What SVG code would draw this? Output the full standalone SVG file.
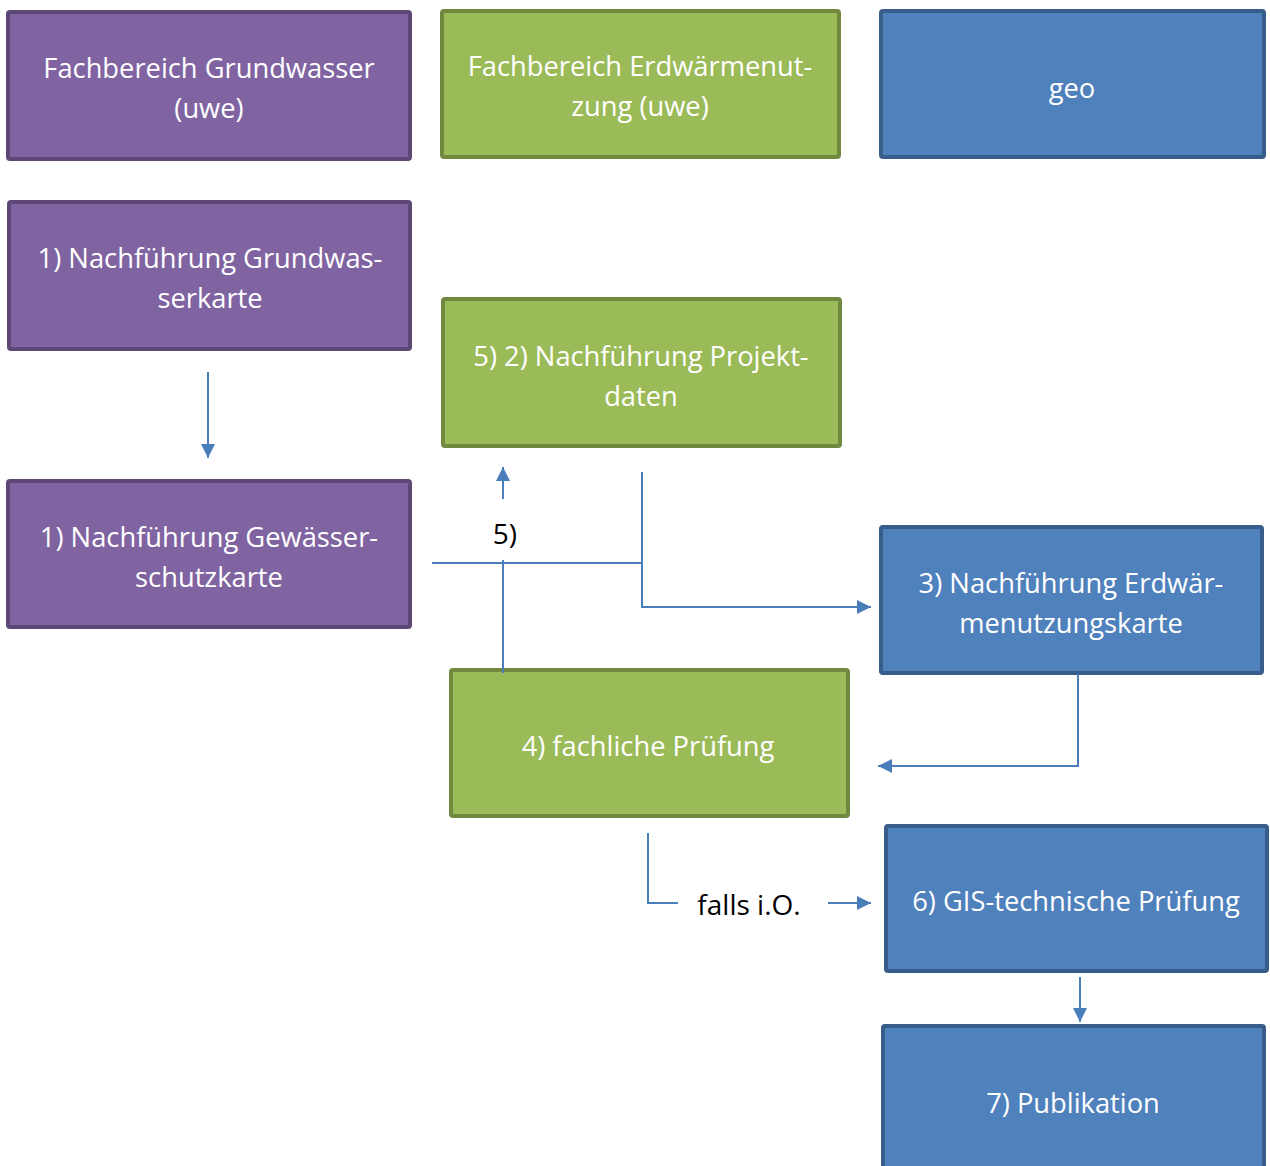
<svg xmlns="http://www.w3.org/2000/svg" width="1270" height="1166" viewBox="0 0 1270 1166">
<style>
.p{fill:#8064A2;stroke:#5C4776;stroke-width:4}
.g{fill:#9BBB59;stroke:#71893F;stroke-width:4}
.b{fill:#4F81BD;stroke:#385D8A;stroke-width:4}
.t{font-family:"Open Sans","Noto Sans",sans-serif;font-size:27.3px;fill:#fff;text-anchor:middle}
.l{font-family:"Open Sans","Noto Sans",sans-serif;font-size:28px;fill:#000;text-anchor:middle}
.c{fill:none;stroke:#4A7EBB;stroke-width:2}
</style>
<defs>
<marker id="ah" viewBox="0 0 10 10" refX="10" refY="5" markerWidth="7" markerHeight="7" markerUnits="strokeWidth" orient="auto">
<path d="M0,0 L10,5 L0,10 z" fill="#4A7EBB"/>
</marker>
</defs>
<rect width="1270" height="1166" fill="#fff"/>
<g id="n-grundwasser"><rect class="p" x="8" y="12" width="402" height="147" rx="2"/><text class="t" x="209" y="78">Fachbereich Grundwasser</text><text class="t" x="209" y="118">(uwe)</text></g>
<g id="n-erdwaerme"><rect class="g" x="442" y="11" width="397" height="146" rx="2"/><text class="t" x="640" y="76">Fachbereich Erdwärmenut-</text><text class="t" x="640" y="116">zung (uwe)</text></g>
<g id="n-geo"><rect class="b" x="881" y="11" width="383" height="146" rx="2"/><text class="t" x="1072" y="98">geo</text></g>
<g id="n-1a"><rect class="p" x="9" y="202" width="401" height="147" rx="2"/><text class="t" x="210" y="268">1) Nachführung Grundwas-</text><text class="t" x="210" y="308">serkarte</text></g>
<g id="n-1b"><rect class="p" x="8" y="481" width="402" height="146" rx="2"/><text class="t" x="209" y="547">1) Nachführung Gewässer-</text><text class="t" x="209" y="587">schutzkarte</text></g>
<g id="n-5"><rect class="g" x="443" y="299" width="397" height="147" rx="2"/><text class="t" x="641" y="366">5) 2) Nachführung Projekt-</text><text class="t" x="641" y="406">daten</text></g>
<g id="n-3"><rect class="b" x="881" y="527" width="381" height="146" rx="2"/><text class="t" x="1071" y="593">3) Nachführung Erdwär-</text><text class="t" x="1071" y="633">menutzungskarte</text></g>
<g id="n-4"><rect class="g" x="451" y="670" width="397" height="146" rx="2"/><text class="t" x="648" y="756">4) fachliche Prüfung</text></g>
<g id="n-6"><rect class="b" x="886" y="826" width="381" height="145" rx="2"/><text class="t" x="1076" y="911">6) GIS-technische Prüfung</text></g>
<g id="n-7"><rect class="b" x="883" y="1026" width="381" height="150" rx="2"/><text class="t" x="1073" y="1113">7) Publikation</text></g>
<g id="connectors">
<path class="c" d="M208,372 V458" marker-end="url(#ah)"/>
<path class="c" d="M432,563 H642"/>
<path class="c" d="M642,472 V607 H871" marker-end="url(#ah)"/>
<path class="c" d="M503,673 V560"/>
<path class="c" d="M503,499 V467" marker-end="url(#ah)"/>
<text class="l" x="505" y="544">5)</text>
<path class="c" d="M1078,674 V766 H878" marker-end="url(#ah)"/>
<path class="c" d="M648,833 V903 H678"/>
<text class="l" x="749" y="915">falls i.O.</text>
<path class="c" d="M828,903 H871" marker-end="url(#ah)"/>
<path class="c" d="M1080,977 V1022" marker-end="url(#ah)"/>
</g>
</svg>
